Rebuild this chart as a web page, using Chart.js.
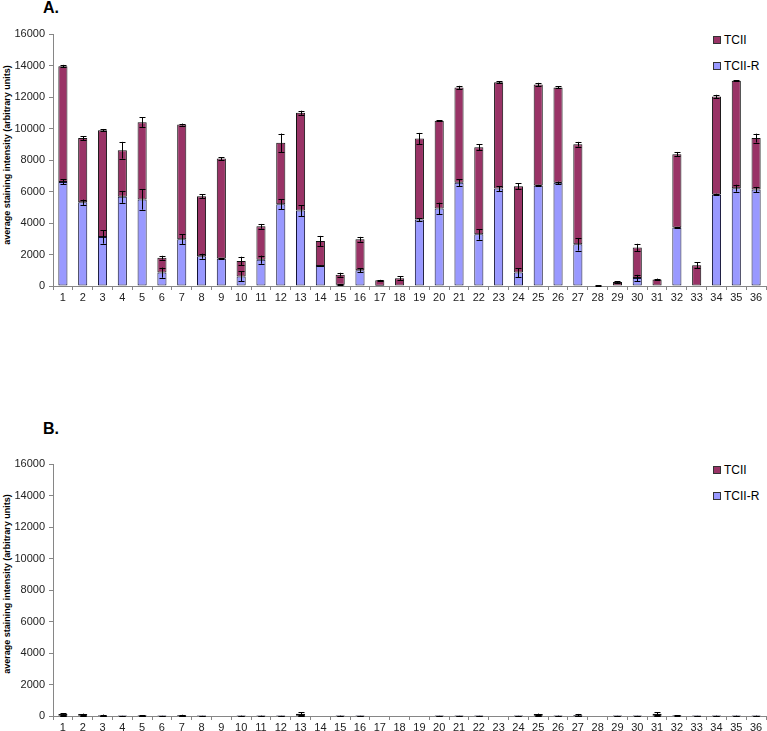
<!DOCTYPE html>
<html><head><meta charset="utf-8">
<script src="https://cdn.jsdelivr.net/npm/chart.js@4.4.0/dist/chart.umd.min.js"></script>
<style>
html,body{margin:0;padding:0;background:#fff;width:767px;height:731px;overflow:hidden;font-family:"Liberation Sans",Arial,sans-serif;}
.wrap{position:absolute;left:0;width:767px;}
.panel{position:absolute;font-weight:bold;font-size:16px;color:#000;}
.ytitle{position:absolute;font-weight:bold;font-size:9px;color:#000;white-space:nowrap;transform:translate(-50%,-50%) rotate(-90deg);}
.leg{position:absolute;font-size:12px;color:#000;white-space:nowrap;}
.leg span.sq{display:inline-block;width:6px;height:6px;border:1px solid #333;margin-right:3px;vertical-align:0px;}
</style>
</head><body>
<div class="panel" style="left:43px;top:-1px;">A.</div>
<div class="panel" style="left:43px;top:420px;">B.</div>
<div class="ytitle" style="left:7px;top:155px;">average staining intensity (arbitrary units)</div>
<div class="ytitle" style="left:7px;top:584px;">average staining intensity (arbitrary units)</div>
<div class="leg" style="left:713px;top:33px;"><span class="sq" style="background:#993366"></span>TCII</div>
<div class="leg" style="left:713px;top:59px;"><span class="sq" style="background:#9999FF"></span>TCII-R</div>
<div class="leg" style="left:713px;top:463px;"><span class="sq" style="background:#993366"></span>TCII</div>
<div class="leg" style="left:713px;top:489px;"><span class="sq" style="background:#9999FF"></span>TCII-R</div>
<div class="wrap" style="top:0px;height:320px;"><canvas id="cA" width="767" height="320"></canvas></div>
<div class="wrap" style="top:360px;height:371px;"><canvas id="cB" width="767" height="371"></canvas></div>
<script>
const categories = ["1","2","3","4","5","6","7","8","9","10","11","12","13","14","15","16","17","18","19","20","21","22","23","24","25","26","27","28","29","30","31","32","33","34","35","36"];
const yTicks = [0,2000,4000,6000,8000,10000,12000,14000,16000];

// Panel A
const tciiR_A = [6610,5320,3110,5660,5490,850,2970,1890,1740,610,1670,5190,4790,1270,80,1000,20,0,4220,4920,6550,3280,6190,850,6380,6550,2650,0,0,510,0,3710,0,5810,6210,6120];
const tcii_A  = [7350,4070,6780,2960,4910,950,7280,3810,6350,980,2120,3900,6210,1590,640,1970,340,490,5140,5570,6060,5530,6750,5480,6420,6060,6350,30,250,1930,420,4660,1310,6220,6820,3270];
const errR_A  = [160,170,420,380,640,320,300,160,20,320,260,310,350,30,20,130,0,0,100,370,220,340,160,290,40,80,400,0,0,200,0,40,0,50,220,170];
const errT_A  = [80,130,80,530,300,120,60,130,100,270,150,590,130,320,120,150,30,140,360,40,100,190,70,190,100,70,150,30,60,240,50,140,190,110,40,280];

// Panel B
const tciiR_B = [10,10,5,5,5,5,5,5,0,5,5,5,10,0,5,5,0,0,0,5,5,5,0,5,10,5,5,0,5,5,10,5,5,5,5,5];
const tcii_B  = [120,110,25,5,25,5,35,5,0,10,15,5,140,0,15,5,0,0,0,10,10,10,0,10,110,15,45,0,10,10,140,25,5,15,15,15];
const errR_B  = [5,5,5,0,5,0,5,0,0,0,0,0,5,0,0,0,0,0,0,0,0,0,0,0,5,0,5,0,0,0,5,0,0,0,0,0];
const errT_B  = [40,30,60,5,30,5,40,5,0,10,10,5,80,0,10,5,0,0,0,5,5,5,0,5,30,10,80,0,5,5,100,30,5,10,10,10];

const COL_TCII = '#993366', COL_R = '#9999FF', AXIS = '#868686';

const errorBars = {
  id:'errorBars',
  afterDatasetsDraw(chart){
    const ctx = chart.ctx, y = chart.scales.y;
    const ds = chart.data.datasets;
    ctx.save();
    ctx.strokeStyle = '#000'; ctx.lineWidth = 1;
    ds.forEach((d, i) => {
      const meta = chart.getDatasetMeta(i);
      meta.data.forEach((el, j) => {
        let cum = 0;
        for (let k = 0; k <= i; k++) cum += ds[k].data[j];
        const e = d.err[j];
        if (!e) return;
        const x = Math.round(el.x) + 0.5;
        const y1 = y.getPixelForValue(cum + e), y2 = y.getPixelForValue(Math.max(0, cum - e));
        ctx.beginPath();
        ctx.moveTo(x, y1); ctx.lineTo(x, y2);
        ctx.moveTo(x - 3, Math.round(y1) + 0.5); ctx.lineTo(x + 3, Math.round(y1) + 0.5);
        ctx.moveTo(x - 3, Math.round(y2) + 0.5); ctx.lineTo(x + 3, Math.round(y2) + 0.5);
        ctx.stroke();
      });
    });
    ctx.restore();
  }
};

function makeChart(id, r, t, er, et, padTop, xH){
  return new Chart(document.getElementById(id), {
    type:'bar',
    data:{
      labels: categories,
      datasets:[
        {label:'TCII-R', data:r, err:er, backgroundColor:COL_R, borderColor:'#111133', borderWidth:1, borderSkipped:false, barPercentage:0.46, categoryPercentage:1},
        {label:'TCII', data:t, err:et, backgroundColor:COL_TCII, borderColor:'#111111', borderWidth:1, borderSkipped:false, barPercentage:0.46, categoryPercentage:1}
      ]
    },
    options:{
      responsive:false, animation:false,
      layout:{padding:{top:padTop, left:0, right:1, bottom:0}},
      plugins:{legend:{display:false}, tooltip:{enabled:false}},
      scales:{
        x:{
          stacked:true,
          grid:{display:true, drawOnChartArea:false, drawTicks:true, tickLength:4, color:AXIS, offset:true},
          border:{display:true, color:AXIS, width:1},
          ticks:{font:{family:'"Liberation Sans", Arial', size:11}, color:'#222', padding:1, maxRotation:0, autoSkip:false},
          afterFit(s){ s.height = xH; }
        },
        y:{
          stacked:true, min:0, max:16000,
          afterBuildTicks(s){ s.ticks = yTicks.map(v => ({value:v})); },
          grid:{display:true, drawOnChartArea:false, drawTicks:true, tickLength:4, color:AXIS},
          border:{display:true, color:AXIS, width:1},
          ticks:{font:{family:'"Liberation Sans", Arial', size:11}, color:'#222', padding:4, callback:(v)=>String(v)},
          afterFit(s){ s.width = 53; }
        }
      }
    },
    plugins:[errorBars]
  });
}
makeChart('cA', tciiR_A, tcii_A, errR_A, errT_A, 34, 34);
makeChart('cB', tciiR_B, tcii_B, errR_B, errT_B, 104, 15);
</script>
</body></html>
